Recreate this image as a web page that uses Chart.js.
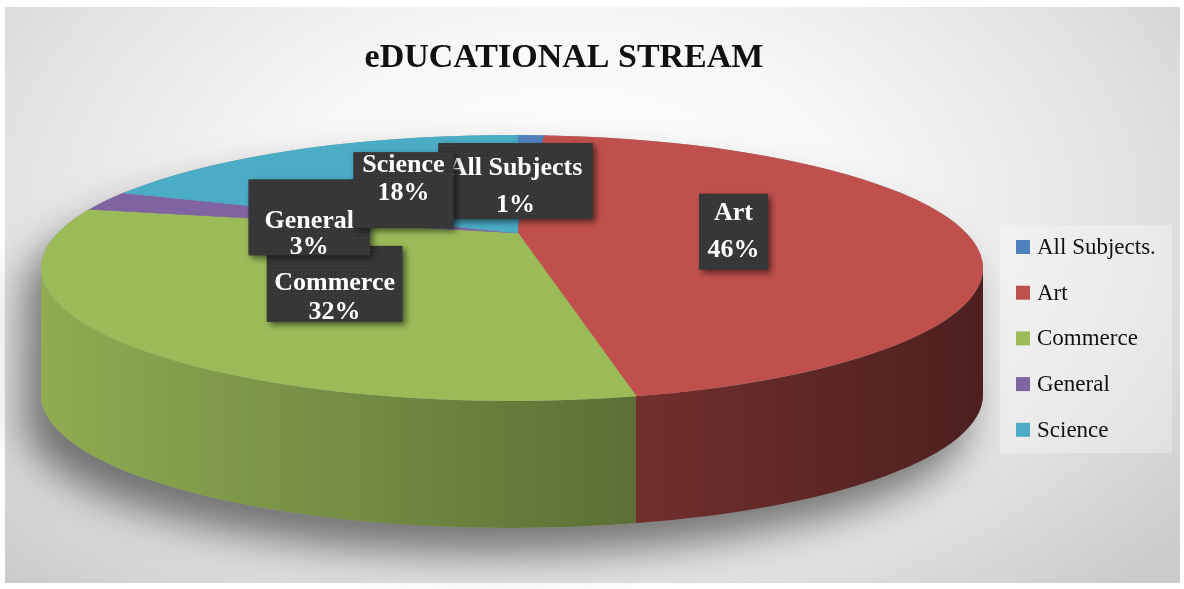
<!DOCTYPE html>
<html>
<head>
<meta charset="utf-8">
<title>Educational Stream</title>
<script src="https://cdn.jsdelivr.net/npm/chart.js@4.4.1/dist/chart.umd.min.js"></script>
<style>
  html, body { margin: 0; padding: 0; background: #fff; }
  body { width: 1184px; height: 589px; position: relative; overflow: hidden; }
  #frame {
    position: absolute; left: 5px; top: 7px; width: 1175px; height: 576px;
    background: radial-gradient(ellipse 68% 90% at 48% 36%, #ffffff 0%, #f8f8f8 35%, #e2e2e2 72%, #cbcbcb 100%);
  }
  #chart { position: absolute; left: 0; top: 0; }
</style>
</head>
<body>
<div id="frame"></div>
<canvas id="chart" width="1184" height="589"></canvas>
<script>
// stream names as printed in the slice boxes and in the legend
const streams = ['All Subjects', 'Art', 'Commerce', 'General', 'Science'];
const legendNames = ['All Subjects.', 'Art', 'Commerce', 'General', 'Science'];
// share of students per stream, in percent
const shares = [1, 46, 32, 3, 18];
const sliceColors = ['#4f81bd', '#c0504d', '#9bbb59', '#8064a2', '#4bacc6'];

// outline of the tilted disc (top face) and its thickness
const disc = { cx: 512, cy: 268, rx: 471, ry: 133, depth: 127 };
// fake perspective: the pie centre sits above the ellipse centre, the far
// half is squashed more than the near half
const persp = { px: 517, py: 233, sxb: 480, syb: 104, sxf: 665, syf: 175 };

// callout boxes: shift from the slice centre, text offset, line gap, side padding
const labelLayout = [
    { dx: -9, dy: 0,  ty: 6,   gap: 37, pad: 21 },
    { dx: -23, dy: 2, ty: 0,   gap: 37, pad: 17 },
    { dx: 60, dy: -9, ty: 14,  gap: 29, pad: 15 },
    { dx: 18, dy: 2,  ty: 17,  gap: 26, pad: 32 },
    { dx: 15, dy: 1,  ty: -11, gap: 28, pad: 18 }
];

function shade(hex, f) {
    const n = parseInt(hex.slice(1), 16);
    const r = Math.round(((n >> 16) & 255) * f);
    const g = Math.round(((n >> 8) & 255) * f);
    const b = Math.round((n & 255) * f);
    return `rgb(${r},${g},${b})`;
}

// dotted fill used inside the dark callout boxes
function dotPattern(ctx) {
    const c = document.createElement('canvas');
    c.width = 4; c.height = 4;
    const p = c.getContext('2d');
    p.fillStyle = '#363636';
    p.fillRect(0, 0, 4, 4);
    p.fillStyle = '#4a4a4a';
    p.fillRect(1, 1, 1, 1);
    return ctx.createPattern(c, 'repeat');
}

// map a point of the flat pie onto the tilted disc
function toDisc(arc0, x, y) {
    const R = arc0.outerRadius;
    const front = y > arc0.y;
    return {
        x: persp.px + (x - arc0.x) * (front ? persp.sxf : persp.sxb) / R,
        y: persp.py + (y - arc0.y) * (front ? persp.syf : persp.syb) / R
    };
}

// parametric angle on the rim ellipse where a slice edge meets it
function rimAngle(ang) {
    const front = Math.sin(ang) > 0;
    const ux = Math.cos(ang) * (front ? persp.sxf : persp.sxb) / disc.rx;
    const uy = Math.sin(ang) * (front ? persp.syf : persp.syb) / disc.ry;
    const ox = (persp.px - disc.cx) / disc.rx;
    const oy = (persp.py - disc.cy) / disc.ry;
    const A = ux * ux + uy * uy;
    const B = 2 * (ox * ux + oy * uy);
    const C = ox * ox + oy * oy - 1;
    const t = (-B + Math.sqrt(B * B - 4 * A * C)) / (2 * A);
    let phi = Math.atan2(oy + t * uy, ox + t * ux);
    phi += 2 * Math.PI * Math.round((ang - phi) / (2 * Math.PI));
    return phi;
}

function drawLabels(chart) {
    const ctx = chart.ctx;
    const arcs = chart.getDatasetMeta(0).data;
    const pattern = dotPattern(ctx);
    ctx.save();
    ctx.font = 'bold 26px "Liberation Serif", "Times New Roman", serif';
    ctx.textAlign = 'center';
    ctx.textBaseline = 'middle';
    arcs.forEach((arc, i) => {
        const lay = labelLayout[i];
        const c = arc.tooltipPosition();
        const p = toDisc(arcs[0], c.x, c.y);
        const bx = p.x + lay.dx;
        const by = p.y + lay.dy;
        const pct = shares[i] + '%';
        const w = Math.max(ctx.measureText(streams[i]).width, ctx.measureText(pct).width) + lay.pad;
        const h = 76;
        ctx.save();
        ctx.shadowColor = 'rgba(0,0,0,0.55)';
        ctx.shadowBlur = 6;
        ctx.shadowOffsetX = 3;
        ctx.shadowOffsetY = 3;
        ctx.fillStyle = pattern;
        ctx.fillRect(bx - w / 2, by - h / 2, w, h);
        ctx.restore();
        ctx.fillStyle = '#ffffff';
        ctx.fillText(streams[i], bx, by + lay.ty - lay.gap / 2);
        ctx.fillText(pct, bx, by + lay.ty + lay.gap / 2);
    });
    ctx.restore();
}

function drawLegend(chart) {
    const ctx = chart.ctx;
    const items = Chart.overrides.doughnut.plugins.legend.labels.generateLabels(chart);
    ctx.save();
    ctx.fillStyle = 'rgba(255,255,255,0.3)';
    ctx.fillRect(1000, 225, 172, 228);
    ctx.font = '23px "Liberation Serif", "Times New Roman", serif';
    ctx.textBaseline = 'middle';
    ctx.textAlign = 'left';
    items.forEach((item, i) => {
        const y = 247 + i * 45.7;
        ctx.fillStyle = item.fillStyle;
        ctx.fillRect(1016, y - 7, 14, 14);
        ctx.fillStyle = '#111';
        ctx.fillText(item.text, 1037, y + 1);
    });
    ctx.restore();
}

const discPlugin = {
    id: 'disc3d',
    beforeDatasetsDraw(chart) {
        const ctx = chart.ctx;
        const meta = chart.getDatasetMeta(0);
        const arcs = meta.data;
        const { cx, cy, rx, ry, depth } = disc;

        // soft floor shadow behind the whole disc
        ctx.save();
        ctx.beginPath();
        ctx.ellipse(cx, cy, rx, ry, 0, Math.PI, 2 * Math.PI);
        ctx.ellipse(cx, cy + depth, rx, ry, 0, 0, Math.PI);
        ctx.closePath();
        ctx.shadowColor = 'rgba(0,0,0,0.5)';
        ctx.shadowBlur = 40;
        ctx.shadowOffsetX = -16;
        ctx.shadowOffsetY = 26;
        ctx.fillStyle = '#999';
        ctx.fill();
        ctx.restore();

        // front wall: only the part of each slice facing the viewer
        arcs.forEach((arc, i) => {
            const a0 = Math.max(rimAngle(arc.startAngle), 0);
            const a1 = Math.min(rimAngle(arc.endAngle), Math.PI);
            if (a1 <= a0) return;
            const grad = ctx.createLinearGradient(cx - rx, 0, cx + rx, 0);
            grad.addColorStop(0, shade(sliceColors[i], 0.92));
            grad.addColorStop(1, shade(sliceColors[i], 0.40));
            ctx.beginPath();
            ctx.ellipse(cx, cy, rx, ry, 0, a0, a1);
            ctx.ellipse(cx, cy + depth, rx, ry, 0, a1, a0, true);
            ctx.closePath();
            ctx.fillStyle = grad;
            ctx.fill();
        });

        // top face: the library's own arcs, drawn twice (near and far half)
        const a = arcs[0];
        const R = a.outerRadius;
        const halves = [
            { top: persp.py - 1, bottom: chart.height, sx: persp.sxf, sy: persp.syf },
            { top: 0, bottom: persp.py, sx: persp.sxb, sy: persp.syb }
        ];
        halves.forEach(hf => {
            ctx.save();
            ctx.beginPath();
            ctx.ellipse(cx, cy, rx, ry, 0, 0, 2 * Math.PI);
            ctx.clip();
            ctx.beginPath();
            ctx.rect(0, hf.top, chart.width, hf.bottom - hf.top);
            ctx.clip();
            ctx.translate(persp.px, persp.py);
            ctx.scale(hf.sx / R, hf.sy / R);
            ctx.translate(-a.x, -a.y);
            meta.controller.draw();
            ctx.restore();
        });
        return false;
    },
    afterDraw(chart) {
        drawLabels(chart);
        drawLegend(chart);
    }
};

new Chart(document.getElementById('chart'), {
    type: 'pie',
    data: {
        labels: legendNames,
        datasets: [{
            data: shares,
            backgroundColor: sliceColors,
            borderColor: sliceColors,
            borderWidth: 1,
            clip: false
        }]
    },
    options: {
        responsive: false,
        animation: false,
        devicePixelRatio: 1,
        layout: { padding: { right: 56 } },
        plugins: {
            legend: { display: false },
            tooltip: { enabled: false },
            title: {
                display: true,
                text: 'eDUCATIONAL STREAM',
                color: '#111',
                font: { family: '"Liberation Serif", "Times New Roman", serif', size: 34, weight: 'bold' },
                padding: { top: 38, bottom: 10 }
            }
        }
    },
    plugins: [discPlugin]
});
</script>
</body>
</html>
